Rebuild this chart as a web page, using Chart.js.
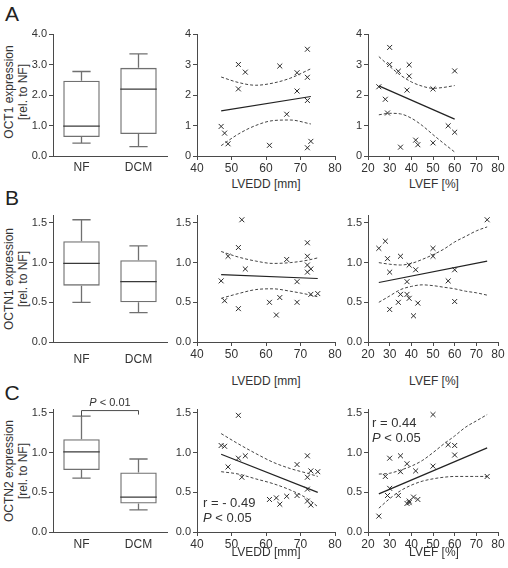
<!DOCTYPE html>
<html>
<head>
<meta charset="utf-8">
<script src="https://cdn.jsdelivr.net/npm/chart.js@4.4.0/dist/chart.umd.min.js"></script>
<style>
body { margin: 0; width: 508px; height: 568px; position: relative; overflow: hidden; background: #fff; font-family: "Liberation Sans", Arial, sans-serif; color: #333; }
canvas { position: absolute; }
.t { position: absolute; white-space: nowrap; font-size: 12px; transform: translate(-50%, -50%); }
.rot { transform: translate(-50%, -50%) rotate(-90deg); }
.big { font-size: 21px; color: #222; }
.note { position: absolute; white-space: nowrap; font-size: 13px; line-height: 15px; }
</style>
</head>
<body>
<canvas id="boxA"></canvas><canvas id="a1"></canvas><canvas id="a2"></canvas>
<canvas id="boxB"></canvas><canvas id="b1"></canvas><canvas id="b2"></canvas>
<canvas id="boxC"></canvas><canvas id="c1"></canvas><canvas id="c2"></canvas>

<div class="t big" style="left:12px;top:14px">A</div>
<div class="t big" style="left:12px;top:198px">B</div>
<div class="t big" style="left:12px;top:393px">C</div>

<div class="t rot" style="left:9px;top:92px">OCT1 expression</div>
<div class="t rot" style="left:23px;top:92px">[rel. to NF]</div>
<div class="t rot" style="left:9px;top:279px">OCTN1 expression</div>
<div class="t rot" style="left:23px;top:279px">[rel. to NF]</div>
<div class="t rot" style="left:9px;top:471px">OCTN2 expression</div>
<div class="t rot" style="left:23px;top:471px">[rel. to NF]</div>

<div class="t" style="left:266px;top:184px">LVEDD [mm]</div>
<div class="t" style="left:434px;top:184px">LVEF [%]</div>
<div class="t" style="left:266px;top:381px">LVEDD [mm]</div>
<div class="t" style="left:434px;top:381px">LVEF [%]</div>
<div class="t" style="left:266px;top:552px">LVEDD [mm]</div>
<div class="t" style="left:434px;top:552px">LVEF [%]</div>

<div class="note" style="left:203px;top:495px">r = - 0.49<br><i>P</i> &lt; 0.05</div>
<div class="note" style="left:372px;top:415px">r = 0.44<br><i>P</i> &lt; 0.05</div>

<script>
// groups of the box plots
const groups = ['NF', 'DCM'];

// box plot stats: [min, q1, median, q3, max]
const oct1NF = [0.42, 0.62, 0.98, 2.47, 2.77];
const oct1DCM = [0.31, 0.72, 2.19, 2.89, 3.35];
const octn1NF = [0.50, 0.71, 0.99, 1.27, 1.54];
const octn1DCM = [0.37, 0.50, 0.76, 1.03, 1.21];
const octn2NF = [0.68, 0.78, 1.01, 1.17, 1.46];
const octn2DCM = [0.28, 0.36, 0.44, 0.75, 0.92];

// tick labels
const ticksOct1 = [0, 1, 2, 3, 4];
const ticksOctn = [0, 0.5, 1.0, 1.5];
const ticksLvedd = [40, 50, 60, 70, 80];
const ticksLvef = [20, 30, 40, 50, 60, 70, 80];

// OCT1 vs LVEDD
const lveddA = [47, 48, 49, 52, 52, 54, 61, 64, 66, 69, 69, 72, 72, 72, 72, 73];
const oct1ByLvedd = [0.97, 0.75, 0.40, 3.00, 2.20, 2.75, 0.35, 2.95, 1.37, 2.73, 2.13, 3.50, 2.58, 1.82, 0.27, 0.48];
const oct1LveddFit = [[47, 1.48], [73, 1.95]];
const oct1LveddBandX = [47, 52, 57, 62, 67, 73];
const oct1LveddUpper = [2.59, 2.41, 2.32, 2.39, 2.55, 2.86];
const oct1LveddLower = [0.34, 0.72, 1.00, 1.16, 1.18, 1.05];

// OCT1 vs LVEF
const lvefA = [25, 28, 29, 30, 30, 34, 35, 38, 39, 39, 42, 43, 50, 50, 57, 60, 60];
const oct1ByLvef = [2.27, 1.86, 1.41, 3.56, 3.00, 2.78, 0.29, 2.16, 2.99, 2.62, 0.52, 0.37, 2.20, 0.43, 0.99, 2.79, 0.78];
const oct1LvefFit = [[25, 2.30], [60, 1.21]];
const oct1LvefBandX = [25, 30, 35, 40, 45, 50, 55, 60];
const oct1LvefUpper = [3.26, 2.94, 2.65, 2.43, 2.29, 2.22, 2.25, 2.31];
const oct1LvefLower = [1.35, 1.40, 1.38, 1.24, 1.00, 0.70, 0.41, 0.13];

// LVEDD / LVEF of the OCTN patients
const lveddBC = [47, 48, 49, 52, 52, 53, 54, 61, 63, 64, 66, 69, 69, 72, 72, 72, 72, 73, 73, 75];
const lvefBC = [25, 28, 29, 30, 30, 34, 35, 35, 38, 38, 39, 39, 41, 42, 43, 50, 50, 57, 60, 60, 75];

// OCTN1
const octn1ByLvedd = [0.77, 0.52, 1.08, 1.19, 0.42, 1.54, 0.92, 0.50, 0.34, 0.56, 1.04, 0.76, 0.50, 1.25, 1.08, 0.97, 0.88, 0.60, 0.92, 0.61];
const octn1LveddFit = [[47, 0.85], [75, 0.80]];
const octn1LveddBandX = [47, 52, 57, 62, 67, 72, 75];
const octn1LveddUpper = [1.14, 1.07, 1.02, 0.99, 1.00, 1.03, 1.06];
const octn1LveddLower = [0.55, 0.61, 0.66, 0.67, 0.64, 0.60, 0.57];

const octn1ByLvef = [1.18, 1.27, 1.05, 0.88, 0.41, 0.50, 1.08, 0.60, 0.60, 0.76, 0.97, 0.55, 0.33, 0.91, 0.49, 1.18, 1.08, 0.77, 0.91, 0.51, 1.54];
const octn1LvefFit = [[25, 0.75], [75, 1.02]];
const octn1LvefBandX = [25, 30, 35, 40, 45, 50, 55, 60, 65, 70, 75];
const octn1LvefUpper = [1.00, 0.98, 0.97, 0.99, 1.04, 1.10, 1.17, 1.26, 1.33, 1.40, 1.45];
const octn1LvefLower = [0.50, 0.58, 0.66, 0.70, 0.72, 0.71, 0.69, 0.67, 0.64, 0.62, 0.59];

// OCTN2
const octn2ByLvedd = [1.09, 1.08, 0.82, 1.47, 0.93, 0.69, 0.96, 0.41, 0.43, 0.35, 0.45, 0.85, 0.46, 0.96, 0.69, 0.54, 0.39, 0.77, 0.34, 0.76];
const octn2LveddFit = [[47, 0.98], [75, 0.50]];
const octn2LveddBandX = [47, 52, 57, 62, 67, 72, 75];
const octn2LveddUpper = [1.24, 1.11, 0.99, 0.88, 0.80, 0.74, 0.70];
const octn2LveddLower = [0.76, 0.73, 0.67, 0.61, 0.53, 0.42, 0.32];

const octn2ByLvef = [0.20, 0.70, 0.46, 0.55, 0.93, 0.46, 0.96, 0.76, 0.86, 0.36, 0.39, 0.37, 0.44, 0.77, 0.41, 1.48, 0.83, 1.10, 1.09, 0.97, 0.70];
const octn2LvefFit = [[25, 0.48], [75, 1.06]];
const octn2LvefBandX = [25, 30, 35, 40, 45, 50, 55, 60, 65, 70, 75];
const octn2LvefUpper = [0.73, 0.74, 0.78, 0.83, 0.90, 1.00, 1.11, 1.21, 1.32, 1.40, 1.48];
const octn2LvefLower = [0.30, 0.42, 0.52, 0.59, 0.64, 0.67, 0.69, 0.70, 0.70, 0.70, 0.70];

const TEXT = '#333';
const AXIS = '#4a4a4a';
const BOX = '#707070';
const tickFont = { family: '"Liberation Sans", Arial, sans-serif', size: 11 };

// whiskers, median and significance bracket on top of the floating bars
const boxWhiskers = {
    id: 'boxWhiskers',
    afterDatasetsDraw(chart, args, opts) {
        const ctx = chart.ctx;
        const y = chart.scales.y;
        const bars = chart.getDatasetMeta(0).data;
        ctx.save();
        ctx.lineWidth = 1.3;
        opts.stats.forEach((s, i) => {
            const cx = bars[i].x, hw = bars[i].width / 2, cap = bars[i].width * 0.25;
            const [lo, q1, md, q3, hi] = s.map(v => y.getPixelForValue(v));
            ctx.strokeStyle = BOX;
            ctx.beginPath();
            ctx.moveTo(cx, q3); ctx.lineTo(cx, hi);
            ctx.moveTo(cx - cap, hi); ctx.lineTo(cx + cap, hi);
            ctx.moveTo(cx, q1); ctx.lineTo(cx, lo);
            ctx.moveTo(cx - cap, lo); ctx.lineTo(cx + cap, lo);
            ctx.stroke();
            ctx.strokeStyle = '#3a3a3a';
            ctx.beginPath();
            ctx.moveTo(cx - hw, md); ctx.lineTo(cx + hw, md);
            ctx.stroke();
        });
        const br = opts.bracket;
        if (br) {
            const x0 = bars[0].x, x1 = bars[1].x;
            const by = y.getPixelForValue(br.y);
            ctx.strokeStyle = AXIS;
            ctx.lineWidth = 1;
            ctx.beginPath();
            ctx.moveTo(x0, y.getPixelForValue(opts.stats[0][4]));
            ctx.lineTo(x0, by); ctx.lineTo(x1, by); ctx.lineTo(x1, by + 4);
            ctx.stroke();
            ctx.fillStyle = TEXT;
            ctx.textBaseline = 'alphabetic';
            ctx.font = 'italic 11px "Liberation Sans", Arial, sans-serif';
            const wP = ctx.measureText('P').width;
            ctx.font = '11px "Liberation Sans", Arial, sans-serif';
            const rest = ' < ' + br.text;
            const wR = ctx.measureText(rest).width;
            const sx = (x0 + x1) / 2 - (wP + wR) / 2;
            ctx.font = 'italic 11px "Liberation Sans", Arial, sans-serif';
            ctx.fillText('P', sx, by - 5);
            ctx.font = '11px "Liberation Sans", Arial, sans-serif';
            ctx.fillText(rest, sx + wP, by - 5);
        }
        ctx.restore();
    }
};

function place(id, c, a) {
    const el = document.getElementById(id);
    el.width = c[2] - c[0];
    el.height = c[3] - c[1];
    el.style.left = c[0] + 'px';
    el.style.top = c[1] + 'px';
    return {
        ctx: el.getContext('2d'),
        pad: { left: 0, top: a[1] - c[1], right: c[2] - a[2], bottom: 0 },
        w: a[0] - c[0],
        h: c[3] - a[3]
    };
}

function yScale(w, max, ticks, digits) {
    return {
        type: 'linear', min: 0, max: max,
        afterBuildTicks: s => { s.ticks = ticks.map(v => ({ value: v })); },
        afterFit: s => { s.width = w; s.paddingTop = 0; s.paddingBottom = 0; },
        ticks: { font: tickFont, color: TEXT, padding: 2, callback: v => v.toFixed(digits) },
        grid: { drawOnChartArea: false, tickLength: 4, tickColor: AXIS, tickWidth: 1 },
        border: { color: AXIS, width: 1 }
    };
}

function boxChart(id, c, a, stats, max, ticks, labelPad, bracket) {
    const p = place(id, c, a);
    return new Chart(p.ctx, {
        type: 'bar',
        data: {
            labels: groups,
            datasets: [{
                data: stats.map(s => [s[1], s[3]]),
                backgroundColor: 'rgba(0,0,0,0)',
                borderColor: BOX,
                borderWidth: 1.3,
                borderSkipped: false,
                barPercentage: 0.8,
                categoryPercentage: 0.8
            }]
        },
        options: {
            responsive: false,
            animation: false,
            devicePixelRatio: 1,
            layout: { padding: p.pad },
            plugins: {
                legend: { display: false },
                tooltip: { enabled: false },
                boxWhiskers: { stats: stats, bracket: bracket }
            },
            scales: {
                x: {
                    type: 'category', offset: true,
                    afterFit: s => { s.height = p.h; s.paddingLeft = 0; s.paddingRight = 0; },
                    ticks: { font: { family: tickFont.family, size: 12 }, color: TEXT, padding: labelPad },
                    grid: { display: false, drawTicks: false },
                    border: { color: AXIS, width: 1 }
                },
                y: yScale(p.w, max, ticks, 1)
            }
        },
        plugins: [boxWhiskers]
    });
}

function pts(xs, ys) {
    return xs.map((x, i) => ({ x: x, y: ys[i] }));
}

function scatterChart(id, c, a, xs, ys, fit, bandX, upper, lower, xMin, xTicks, max, yTicks, digits) {
    const p = place(id, c, a);
    const band = ys2 => ({
        type: 'line', data: pts(bandX, ys2), borderColor: '#444', borderWidth: 1,
        borderDash: [3, 2], pointRadius: 0, fill: false, cubicInterpolationMode: 'monotone'
    });
    return new Chart(p.ctx, {
        type: 'scatter',
        data: {
            datasets: [
                {
                    data: pts(xs, ys), pointStyle: 'crossRot', pointRadius: 3.5,
                    borderColor: '#2a2a2a', backgroundColor: '#2a2a2a', borderWidth: 1
                },
                {
                    type: 'line', data: fit.map(f => ({ x: f[0], y: f[1] })),
                    borderColor: '#222', borderWidth: 1.2, pointRadius: 0, fill: false
                },
                band(upper),
                band(lower)
            ]
        },
        options: {
            responsive: false,
            animation: false,
            devicePixelRatio: 1,
            layout: { padding: p.pad },
            plugins: { legend: { display: false }, tooltip: { enabled: false } },
            scales: {
                x: {
                    type: 'linear', min: xMin, max: 80,
                    afterBuildTicks: s => { s.ticks = xTicks.map(v => ({ value: v })); },
                    afterFit: s => { s.height = p.h; s.paddingLeft = 0; s.paddingRight = 0; },
                    ticks: { font: { family: tickFont.family, size: 12 }, color: TEXT, padding: 1 },
                    grid: { drawOnChartArea: false, tickLength: 4, tickColor: AXIS, tickWidth: 1 },
                    border: { color: AXIS, width: 1 }
                },
                y: yScale(p.w, max, yTicks, digits)
            }
        }
    });
}

// row A
boxChart('boxA', [30, 20, 172, 176], [53, 34, 167, 156], [oct1NF, oct1DCM], 4, ticksOct1, 4);
scatterChart('a1', [172, 20, 345, 176], [197, 34, 335, 156], lveddA, oct1ByLvedd, oct1LveddFit,
    oct1LveddBandX, oct1LveddUpper, oct1LveddLower, 40, ticksLvedd, 4, ticksOct1, 0);
scatterChart('a2', [345, 20, 508, 176], [368, 34, 498, 156], lvefA, oct1ByLvef, oct1LvefFit,
    oct1LvefBandX, oct1LvefUpper, oct1LvefLower, 20, ticksLvef, 4, ticksOct1, 0);

// row B
boxChart('boxB', [30, 200, 172, 370], [53, 215, 167, 342], [octn1NF, octn1DCM], 1.6, ticksOctn, 10);
scatterChart('b1', [172, 200, 345, 370], [197, 215, 335, 342], lveddBC, octn1ByLvedd, octn1LveddFit,
    octn1LveddBandX, octn1LveddUpper, octn1LveddLower, 40, ticksLvedd, 1.6, ticksOctn, 1);
scatterChart('b2', [345, 200, 508, 370], [368, 215, 498, 342], lvefBC, octn1ByLvef, octn1LvefFit,
    octn1LvefBandX, octn1LvefUpper, octn1LvefLower, 20, ticksLvef, 1.6, ticksOctn, 1);

// row C
boxChart('boxC', [30, 390, 172, 556], [53, 409, 167, 532], [octn2NF, octn2DCM], 1.55, ticksOctn, 5,
    { y: 1.53, text: '0.01' });
scatterChart('c1', [172, 390, 345, 556], [197, 409, 335, 532], lveddBC, octn2ByLvedd, octn2LveddFit,
    octn2LveddBandX, octn2LveddUpper, octn2LveddLower, 40, ticksLvedd, 1.55, ticksOctn, 1);
scatterChart('c2', [345, 390, 508, 556], [368, 409, 498, 532], lvefBC, octn2ByLvef, octn2LvefFit,
    octn2LvefBandX, octn2LvefUpper, octn2LvefLower, 20, ticksLvef, 1.55, ticksOctn, 1);
</script>
</body>
</html>
